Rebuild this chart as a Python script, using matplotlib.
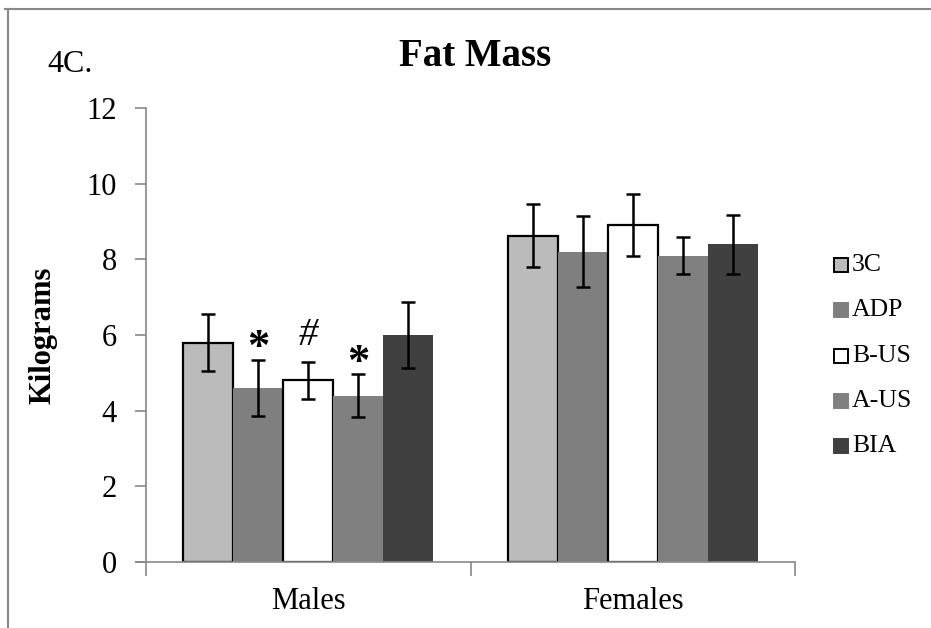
import matplotlib
matplotlib.use("Agg")
import matplotlib.pyplot as plt
from matplotlib.lines import Line2D
from matplotlib.patches import Rectangle
import numpy as np

plt.rcParams['font.family'] = ['Liberation Serif', 'DejaVu Serif']

groups = ["Males", "Females"]
methods = ["3C", "ADP", "B-US", "A-US", "BIA"]
means = {
    "3C":   [5.80, 8.62],
    "ADP":  [4.60, 8.20],
    "B-US": [4.80, 8.92],
    "A-US": [4.40, 8.10],
    "BIA":  [6.00, 8.40],
}
errors = {
    "3C":   [0.75, 0.83],
    "ADP":  [0.74, 0.94],
    "B-US": [0.48, 0.82],
    "A-US": [0.56, 0.48],
    "BIA":  [0.88, 0.78],
}
# significance markers placed above the male bars
markers = {"ADP": "*", "B-US": "#", "A-US": "*"}
yticks = [0, 2, 4, 6, 8, 10, 12]

fills = {"3C": "#bbbbbb", "ADP": "#7f7f7f", "B-US": "#ffffff",
         "A-US": "#808080", "BIA": "#404040"}
edges = {"3C": "black", "ADP": "none", "B-US": "black",
         "A-US": "none", "BIA": "none"}

fig = plt.figure(figsize=(9.31, 6.28), dpi=100)
ax = fig.add_axes([146/931, 1-562/628, (795-146)/931, (562-108)/628])

width = 50/324
x = np.arange(len(groups))
for i, m in enumerate(methods):
    pos = x + (i - 2) * width
    ax.bar(pos, means[m], width, color=fills[m], edgecolor=edges[m],
           linewidth=1.6 if edges[m] != "none" else 0, zorder=2)
    ax.errorbar(pos, means[m], yerr=errors[m], fmt="none", ecolor="black",
                elinewidth=1.8, capsize=5, capthick=1.8, zorder=3)
    if m in markers:
        top = means[m][0] + errors[m][0]
        if markers[m] == "*":
            ax.text(pos[0], top - 0.22, "*", ha="center", va="bottom",
                    fontsize=32, fontweight="bold", color="black")
        else:
            ax.text(pos[0], top + 0.22, "#", ha="center", va="bottom",
                    fontsize=28, fontstyle="italic", color="black")

ax.set_xlim(-0.5, 1.5)
ax.set_ylim(0, 12)
ax.set_yticks(yticks)
ax.set_yticklabels([str(t) for t in yticks], fontsize=22)
ax.set_xticks(x)
ax.set_xticklabels(groups, fontsize=22)
ax.tick_params(axis="x", length=0, pad=18)
ax.tick_params(axis="y", length=8, width=1.2, color="#888888", pad=13)
# category boundary ticks
ax.set_xticks([-0.5, 0.5, 1.5], minor=True)
ax.tick_params(axis="x", which="minor", length=10, width=1.2, color="#888888",
               direction="out")
for s in ["top", "right"]:
    ax.spines[s].set_visible(False)
for s in ["left", "bottom"]:
    ax.spines[s].set_color("#888888")
    ax.spines[s].set_linewidth(1.2)
ax.spines["bottom"].set_bounds(-0.5 - 0.03, 1.5)

ax.set_ylabel("Kilograms", fontsize=22, fontweight="bold", labelpad=21)
fig.text(475/931, 1-56/628, "Fat Mass", ha="center", va="center",
         fontsize=28, fontweight="bold")
fig.text(47/931, 1-64/628, "4C.", ha="left", va="center", fontsize=23)

# legend
for i, m in enumerate(methods):
    yc = 1 - (265 + i * 45.3) / 628
    fig.patches.append(Rectangle((834/931, yc - 7/628), 14/931, 14/628,
                                 transform=fig.transFigure,
                                 facecolor=fills[m],
                                 edgecolor=edges[m] if edges[m] != "none" else fills[m],
                                 linewidth=1.4))
    fig.text(852/931, yc, m, ha="left", va="center", fontsize=18.5)

# outer frame
fig.add_artist(Line2D([5/931, 1], [1-9/628, 1-9/628], color="#888888",
                      linewidth=1.5, transform=fig.transFigure))
fig.add_artist(Line2D([8/931, 8/931], [0, 1-9/628], color="#888888",
                      linewidth=1.5, transform=fig.transFigure))

fig.savefig("out.png", dpi=100)
